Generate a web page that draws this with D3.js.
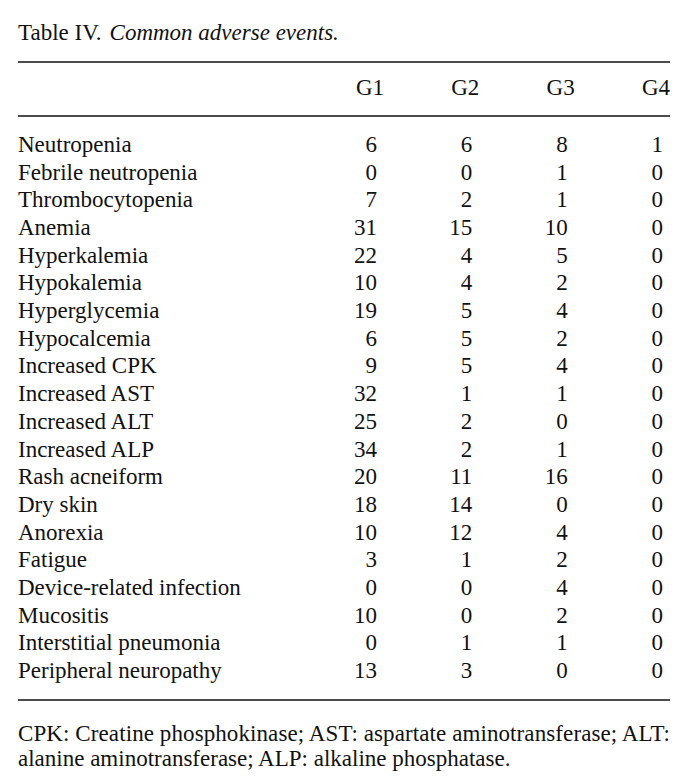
<!DOCTYPE html>
<html><head><meta charset="utf-8">
<script src="https://cdn.jsdelivr.net/npm/d3@7"></script>
<style>
html,body{margin:0;padding:0;background:#fff;}
svg{display:block;}
text{font-family:"Liberation Serif","Times New Roman",serif;fill:#111;}
</style></head>
<body>
<svg id="chart" width="694" height="784"></svg>
<script>
const titleLabel = "Table IV.";
const titleItalic = "Common adverse events.";
const columns = ["G1", "G2", "G3", "G4"];
const categories = ["Neutropenia","Febrile neutropenia","Thrombocytopenia","Anemia","Hyperkalemia","Hypokalemia","Hyperglycemia","Hypocalcemia","Increased CPK","Increased AST","Increased ALT","Increased ALP","Rash acneiform","Dry skin","Anorexia","Fatigue","Device-related infection","Mucositis","Interstitial pneumonia","Peripheral neuropathy"];
const g1 = [6,0,7,31,22,10,19,6,9,32,25,34,20,18,10,3,0,10,0,13];
const g2 = [6,0,2,15,4,4,5,5,5,1,2,2,11,14,12,1,0,0,1,3];
const g3 = [8,1,1,10,5,2,4,2,4,1,0,1,16,0,4,2,4,2,1,0];
const g4 = [1,0,0,0,0,0,0,0,0,0,0,0,0,0,0,0,0,0,0,0];
const footnote = ["CPK: Creatine phosphokinase; AST: aspartate aminotransferase; ALT:", "alanine aminotransferase; ALP: alkaline phosphatase."];

const series = [g1, g2, g3, g4];
const svg = d3.select("#chart");
const fs = 23;
const left = 18, right = 670;

// Title
const t = svg.append("text").attr("x", left).attr("y", 40).style("font-size", fs + "px");
t.append("tspan").text(titleLabel);
t.append("tspan").attr("dx", 8).style("font-style", "italic").text(titleItalic);

// Rules
[62, 116, 700].forEach(y => {
  svg.append("line").attr("x1", left).attr("x2", right).attr("y1", y).attr("y2", y)
    .attr("stroke", "#111").attr("stroke-width", 1.6);
});

// Column scale (right edges of numbers)
const x = d3.scalePoint().domain(columns).range([377, 663]);
const y = d3.scalePoint().domain(categories).range([152, 678]);

// Header
svg.selectAll("text.hdr").data(columns).join("text").attr("class", "hdr")
  .attr("x", d => x(d) + 7).attr("y", 95).attr("text-anchor", "end")
  .style("font-size", fs + "px").text(d => d);

// Row labels
svg.selectAll("text.cat").data(categories).join("text").attr("class", "cat")
  .attr("x", left).attr("y", d => y(d)).style("font-size", fs + "px").text(d => d);

// Values
columns.forEach((c, ci) => {
  svg.selectAll("text.v" + ci).data(series[ci]).join("text").attr("class", "v" + ci)
    .attr("x", x(c)).attr("y", (d, i) => y(categories[i])).attr("text-anchor", "end")
    .style("font-size", fs + "px").text(d => d);
});

// Footnote
footnote.forEach((line, i) => {
  const el = svg.append("text").attr("x", left).attr("y", 741 + i * 25).style("font-size", fs + "px").text(line);
  if (i === 0) el.attr("textLength", right - left).attr("lengthAdjust", "spacing");
});
</script>
</body></html>
